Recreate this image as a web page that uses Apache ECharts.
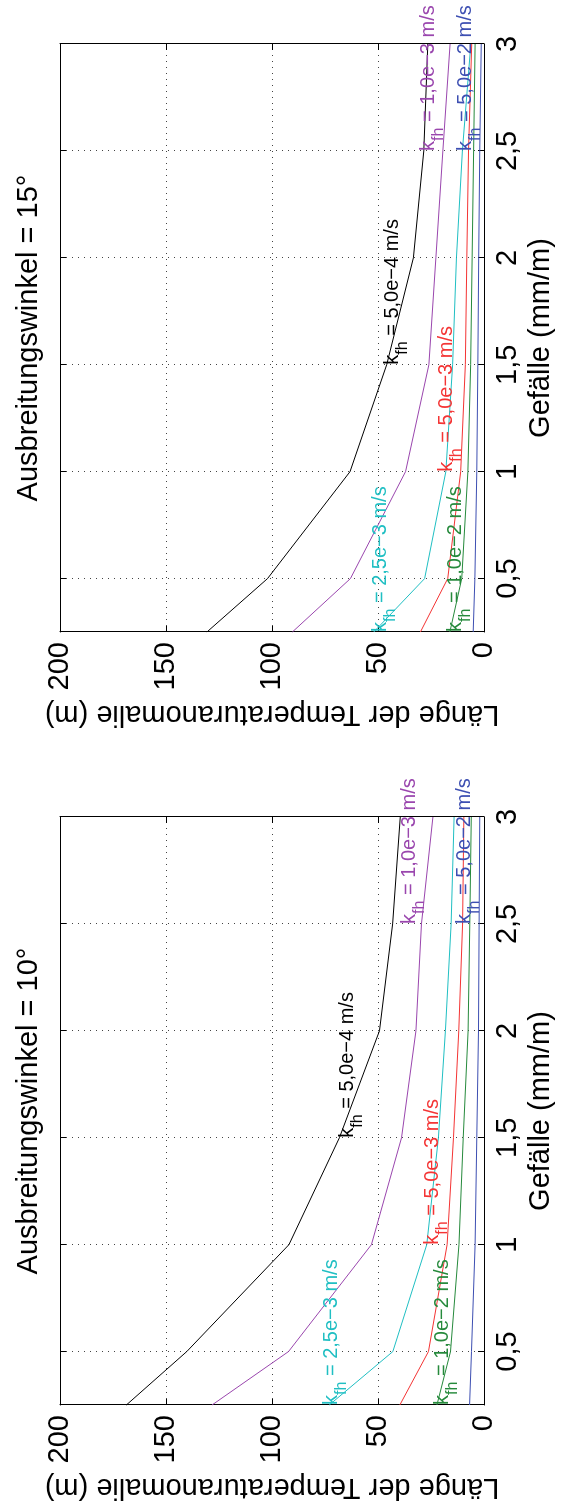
<!DOCTYPE html>
<html>
<head>
<meta charset="utf-8">
<script src="https://cdn.jsdelivr.net/npm/echarts@6.0.0/dist/echarts.min.js"></script>
<style>
html,body{margin:0;padding:0;background:#fff;width:565px;height:1506px;overflow:hidden;}
#chart{position:absolute;left:0;top:0;width:1506px;height:565px;transform-origin:0 0;transform:translate(0,1506px) rotate(-90deg);}
</style>
</head>
<body>
<div id="chart"></div>
<script>
// ---- data ----
const gefaelle = [0.25, 0.5, 1, 1.5, 2, 2.5, 3];          // Gefälle (mm/m)
const xTickValues = [0.5, 1, 1.5, 2, 2.5, 3];
const kfhTexts = ['5,0e\u22124', '1,0e\u22123', '2,5e\u22123', '5,0e\u22123', '1,0e\u22122', '5,0e\u22122'];
const plotTitles = ['Ausbreitungswinkel = 10°', 'Ausbreitungswinkel = 15°'];

// Länge der Temperaturanomalie (m), Ausbreitungswinkel = 10°
const len10_k5e4  = [168.7, 140.2, 92.0, 68.2, 49.3, 43.1, 39.5];
const len10_k1e3  = [128.3, 92.2, 53.1, 38.9, 32.1, 29.5, 24.1];
const len10_k25e3 = [73.0, 43.0, 27.0, 21.5, 18.2, 15.5, 14.1];
const len10_k5e3  = [39.7, 26.2, 17.4, 14.4, 11.9, 10.1, 9.5];
const len10_k1e2  = [22.2, 15.8, 11.8, 9.8, 7.5, 6.7, 6.0];
const len10_k5e2  = [6.8, 5.9, 4.2, 3.4, 2.6, 2.3, 2.0];

// Ausbreitungswinkel = 15°
const len15_k5e4  = [130.7, 102.1, 63.2, 45.9, 33.3, 28.4, 26.5];
const len15_k1e3  = [90.4, 63.0, 37.0, 26.0, 22.7, 19.4, 16.0];
const len15_k25e3 = [52.0, 28.0, 18.0, 14.8, 13.0, 10.2, 6.2];
const len15_k5e3  = [30.0, 17.1, 11.0, 8.8, 8.1, 7.3, 5.8];
const len15_k1e2  = [16.1, 10.5, 7.6, 6.3, 5.6, 4.9, 4.2];
const len15_k5e2  = [5.1, 4.3, 3.4, 2.9, 2.5, 2.0, 1.3];

// curve label anchors (Gefälle, Länge)
const lab10X = [1.5, 2.5, 0.25, 1.0, 0.25, 2.5];
const lab10Y = [64.3, 35.0, 72.0, 24.2, 19.5, 9.1];
const lab15X = [1.5, 2.5, 0.25, 1.0, 0.25, 2.5];
const lab15Y = [43.3, 26.1, 48.8, 17.7, 13.5, 8.9];

// ---- styles ----
const colors = ['#000000', '#9a46ae', '#20bfc3', '#f43434', '#268a3c', '#3d4fb2'];
const FONT = 'Liberation Sans, Arial, Helvetica, sans-serif';

const panels = [
  {lens: [len10_k5e4, len10_k1e3, len10_k25e3, len10_k5e3, len10_k1e2, len10_k5e2], lx: lab10X, ly: lab10Y},
  {lens: [len15_k5e4, len15_k1e3, len15_k25e3, len15_k5e3, len15_k1e2, len15_k5e2], lx: lab15X, ly: lab15Y}
];

const gridLeft = [101, 874];
const grids = gridLeft.map(l => ({left: l, top: 60, width: 588, height: 424, outerBoundsMode: 'none', containLabel: false}));

const axisLineStyle = {show: true, onZero: false, lineStyle: {color: '#000', width: 1}};
const splitStyle = {show: true, lineStyle: {color: '#444', width: 1, type: [1, 5]}};
const fmt = v => String(v).replace('.', ',');

const xAxes = [], yAxes = [];
[0, 1].forEach(g => {
  xAxes.push({
    gridIndex: g, type: 'value', min: 0.25, max: 3, position: 'bottom',
    axisLine: axisLineStyle,
    axisTick: {show: true, inside: true, length: 6, customValues: xTickValues, lineStyle: {color: '#000'}},
    axisLabel: {show: true, customValues: xTickValues, formatter: fmt, fontSize: 29, color: '#000', margin: 9, fontFamily: FONT},
    splitLine: splitStyle,
    name: 'Gefälle (mm/m)', nameLocation: 'middle', nameGap: 38,
    nameTextStyle: {fontSize: 29, color: '#000', fontFamily: FONT}
  });
  yAxes.push({
    gridIndex: g, type: 'value', min: 0, max: 200, interval: 50, position: 'left',
    axisLine: axisLineStyle,
    axisTick: {show: true, inside: true, length: 6, lineStyle: {color: '#000'}},
    axisLabel: {show: true, fontSize: 29, color: '#000', margin: 10, fontFamily: FONT},
    splitLine: splitStyle,
    name: 'Länge der Temperaturanomalie (m)', nameLocation: 'middle', nameGap: 68, nameRotate: 90,
    nameTextStyle: {fontSize: 29, color: '#000', fontFamily: FONT}
  });
});
[0, 1].forEach(g => {
  xAxes.push({
    gridIndex: g, type: 'value', min: 0.25, max: 3, position: 'top',
    axisLine: axisLineStyle,
    axisTick: {show: true, inside: true, length: 6, customValues: xTickValues, lineStyle: {color: '#000'}},
    axisLabel: {show: false, customValues: xTickValues},
    splitLine: {show: false},
    name: plotTitles[g], nameLocation: 'middle', nameGap: 17,
    nameTextStyle: {fontSize: 29, color: '#000', fontFamily: FONT}
  });
  yAxes.push({
    gridIndex: g, type: 'value', min: 0, max: 200, interval: 50, position: 'right',
    axisLine: axisLineStyle,
    axisTick: {show: true, inside: true, length: 6, lineStyle: {color: '#000'}},
    axisLabel: {show: false},
    splitLine: {show: false}
  });
});

const series = [];
panels.forEach((p, g) => {
  p.lens.forEach((arr, i) => {
    const c = colors[i];
    series.push({
      type: 'line', xAxisIndex: g, yAxisIndex: g,
      data: gefaelle.map((x, j) => [x, arr[j]]),
      showSymbol: false, symbol: 'none',
      lineStyle: {color: c, width: 1}, itemStyle: {color: c},
      z: 3, silent: true, animation: false,
      markPoint: {
        symbol: 'circle', symbolSize: 0, silent: true, animation: false,
        data: [{
          coord: [p.lx[i], p.ly[i]],
          label: {
            show: true, position: 'right', distance: 0, color: c, offset: [0, 4],
            formatter: '{k|k}{s|fh}{k| = ' + kfhTexts[i] + ' m/s}',
            rich: {
              k: {fontSize: 20, lineHeight: 20, color: c, fontFamily: FONT, verticalAlign: 'top'},
              s: {fontSize: 16, lineHeight: 28, color: c, fontFamily: FONT, verticalAlign: 'bottom'}
            }
          }
        }]
      }
    });
  });
});

const chart = echarts.init(document.getElementById('chart'), null, {width: 1506, height: 565, renderer: 'canvas'});
chart.setOption({
  animation: false,
  backgroundColor: '#fff',
  textStyle: {fontFamily: FONT},
  grid: grids,
  xAxis: xAxes,
  yAxis: yAxes,
  series: series
});
</script>
</body>
</html>
